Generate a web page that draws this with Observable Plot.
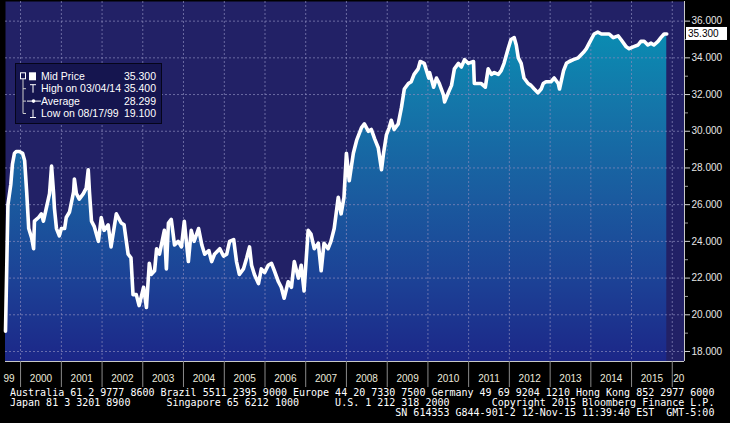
<!DOCTYPE html>
<html><head><meta charset="utf-8">
<script src="https://cdn.jsdelivr.net/npm/d3@7"></script>
<script src="https://cdn.jsdelivr.net/npm/@observablehq/plot@0.6"></script>
<style>
html,body{margin:0;padding:0;background:#000;width:730px;height:423px;overflow:hidden}
#wrap{position:relative;width:730px;height:423px}
#wrap svg{display:block}
#footer{position:absolute;left:10px;top:388px;margin:0;font:10px/10px "DejaVu Sans Mono",monospace;color:#fff;white-space:pre}
#legend{position:absolute;left:15px;top:63px}
</style></head><body><div id="wrap"></div>
<script>
// decimal years and mid prices
const years = [1999.63,1999.66,1999.69,1999.76,1999.80,1999.85,1999.90,1999.97,2000.05,2000.10,2000.15,2000.20,2000.27,2000.32,2000.34,2000.44,2000.51,2000.56,2000.64,2000.71,2000.76,2000.81,2000.83,2000.88,2000.95,2001.00,2001.08,2001.12,2001.20,2001.30,2001.32,2001.37,2001.44,2001.54,2001.61,2001.66,2001.69,2001.74,2001.81,2001.91,2001.98,2002.05,2002.15,2002.22,2002.35,2002.47,2002.54,2002.64,2002.71,2002.76,2002.84,2002.91,2003.02,2003.09,2003.16,2003.21,2003.29,2003.34,2003.41,2003.53,2003.58,2003.63,2003.70,2003.78,2003.87,2003.95,2004.02,2004.12,2004.19,2004.26,2004.37,2004.45,2004.52,2004.62,2004.69,2004.76,2004.89,2004.98,2005.06,2005.13,2005.23,2005.30,2005.37,2005.47,2005.55,2005.62,2005.67,2005.74,2005.84,2005.91,2005.99,2006.08,2006.16,2006.23,2006.33,2006.40,2006.47,2006.57,2006.65,2006.72,2006.82,2006.89,2006.96,2007.06,2007.13,2007.21,2007.31,2007.38,2007.45,2007.55,2007.62,2007.70,2007.80,2007.87,2007.94,2008.00,2008.07,2008.17,2008.25,2008.37,2008.44,2008.54,2008.61,2008.69,2008.78,2008.86,2008.91,2008.98,2009.05,2009.10,2009.17,2009.27,2009.35,2009.42,2009.52,2009.59,2009.66,2009.76,2009.81,2009.91,2010.02,2010.04,2010.14,2010.21,2010.28,2010.38,2010.41,2010.50,2010.58,2010.65,2010.75,2010.82,2010.90,2010.99,2011.12,2011.14,2011.24,2011.31,2011.41,2011.48,2011.56,2011.63,2011.73,2011.80,2011.87,2011.97,2012.04,2012.12,2012.17,2012.22,2012.29,2012.36,2012.46,2012.53,2012.61,2012.70,2012.78,2012.83,2012.90,2013.02,2013.10,2013.20,2013.23,2013.33,2013.40,2013.47,2013.57,2013.69,2013.82,2013.89,2013.96,2014.08,2014.17,2014.26,2014.38,2014.45,2014.55,2014.67,2014.74,2014.87,2014.94,2015.04,2015.16,2015.23,2015.31,2015.40,2015.48,2015.55,2015.65,2015.72,2015.80,2015.865];
const prices = [19.1,22.5,26.0,27.1,28.2,28.8,28.9,28.9,28.8,28.4,26.7,24.7,24.2,23.6,25.1,25.3,25.5,25.1,25.9,26.6,28.1,26.6,25.8,24.7,24.3,24.7,24.7,25.3,25.6,26.7,27.4,26.6,26.3,26.6,26.9,27.9,26.7,25.1,24.8,24.0,25.3,24.6,24.9,23.7,25.5,25.0,24.9,23.3,23.1,21.1,21.1,20.5,21.5,20.4,22.8,22.2,22.4,23.6,23.3,24.6,22.5,25.0,25.2,23.8,24.0,23.7,25.1,22.9,24.6,24.0,24.7,23.8,23.3,23.5,22.9,23.3,23.6,23.2,23.3,24.0,24.1,22.9,22.2,22.5,23.1,23.7,22.7,22.2,21.7,22.5,22.3,22.7,22.8,22.4,21.8,21.5,20.9,21.8,21.5,22.9,22.0,22.7,21.3,24.6,24.4,23.6,23.9,22.4,23.9,23.6,24.0,24.7,26.4,25.5,26.4,28.8,27.3,28.8,29.5,30.2,30.4,30.0,30.1,29.6,29.1,27.9,28.8,29.8,30.2,30.6,30.1,30.4,31.3,32.3,32.6,32.7,33.1,33.4,33.8,33.7,32.9,33.2,32.4,32.9,32.6,32.0,31.6,32.1,32.5,33.4,33.7,33.5,33.9,33.7,33.8,32.6,32.6,32.6,32.4,33.4,33.1,33.2,33.1,33.3,33.7,34.5,35.0,35.1,34.7,34.0,33.7,32.9,32.6,32.5,32.3,32.1,32.3,32.6,32.7,32.7,32.9,32.6,32.3,33.3,33.7,33.8,33.9,34.0,34.3,34.5,34.8,35.3,35.4,35.3,35.3,35.3,35.1,35.2,35.0,34.6,34.5,34.6,34.7,34.9,34.9,34.7,34.8,34.7,34.9,35.1,35.3,35.3];

const yearStarts = [2000,2001,2002,2003,2004,2005,2006,2007,2008,2009,2010,2011,2012,2013,2014,2015,2016];
const yearLabelYears = [2000,2001,2002,2003,2004,2005,2006,2007,2008,2009,2010,2011,2012,2013,2014,2015];
const yearLabels = ["2000","2001","2002","2003","2004","2005","2006","2007","2008","2009","2010","2011","2012","2013","2014","2015"];
const firstYearLabel = "99";
const lastYearLabel = "20";
const priceTicks = [18,20,22,24,26,28,30,32,34,36];
const minorTicks = [19,21,23,25,27,29,31,33,35];
const xDomain = [1999.63, 2016.30];
const yDomain = [17.455, 37.07];

const legendLabels = ["Mid Price","High on 03/04/14","Average","Low on 08/17/99"];
const legendValues = ["35.300","35.400","28.299","19.100"];

const footerLines = [
  "Australia 61 2 9777 8600 Brazil 5511 2395 9000 Europe 44 20 7330 7500 Germany 49 69 9204 1210 Hong Kong 852 2977 6000",
  "Japan 81 3 3201 8900      Singapore 65 6212 1000      U.S. 1 212 318 2000       Copyright 2015 Bloomberg Finance L.P.",
  "SN 614353 G844-901-2 12-Nov-15 11:39:40 EST  GMT-5:00"
];

function toDate(t) {
  const y = Math.floor(t);
  const s = Date.UTC(y, 0, 1), e = Date.UTC(y + 1, 0, 1);
  return new Date(s + (t - y) * (e - s));
}

const data = years.map((t, i) => ({date: toDate(t), price: prices[i]}));
const labelRows = yearLabelYears.map((y, i) => ({date: toDate(y + 0.5), label: yearLabels[i]}));
const lastPrice = prices[prices.length - 1];
const fmt = d3.format(".3f");

function priceTag(index, scales, values, dims) {
  const y = scales.y(lastPrice);
  const x = dims.width - dims.marginRight;
  const g = d3.create("svg:g").attr("transform", `translate(${x},${y})`);
  g.append("rect").attr("x", 2).attr("y", -6.5).attr("width", 41).attr("height", 13).attr("fill", "#fff");
  g.append("text").attr("x", 4).attr("dy", "0.35em").attr("fill", "#000").attr("text-anchor", "start")
    .attr("font-size", 10).attr("font-family", "'Liberation Sans', Arial, sans-serif").text(fmt(lastPrice));
  return g.node();
}

const gridColor = "#8a8abc";

const chart = Plot.plot({
  width: 730,
  height: 388,
  marginLeft: 5,
  marginRight: 46,
  marginTop: 1,
  marginBottom: 27,
  style: {background: "transparent", fontFamily: "'Liberation Sans', Arial, sans-serif", fontSize: "10px", color: "#e6e6e6"},
  x: {type: "utc", domain: xDomain.map(toDate), axis: null},
  y: {domain: yDomain, axis: null},
  marks: [
    Plot.frame({fill: "#222166", stroke: null}),
    Plot.areaY(data, {x: "date", y1: yDomain[0], y2: "price", fill: "url(#areaGrad)"}),
    Plot.ruleY(priceTicks, {stroke: gridColor, strokeOpacity: 0.7, strokeDasharray: "2,2"}),
    Plot.ruleX(yearStarts.map(toDate), {stroke: gridColor, strokeOpacity: 0.7, strokeDasharray: "2,2"}),
    Plot.line(data, {x: "date", y: "price", stroke: "#fff", strokeWidth: 3.6, strokeLinejoin: "round", strokeLinecap: "round"}),
    Plot.ruleY([yDomain[0]], {stroke: "#c8c8c8"}),
    Plot.ruleX([toDate(xDomain[1])], {stroke: "#c8c8c8"}),
    Plot.axisX({ticks: yearStarts.map(toDate), tickSize: 26, tickFormat: () => "", label: null, stroke: "#8a8a8a"}),
    Plot.text(labelRows, {x: "date", text: "label", frameAnchor: "bottom", dy: 20, fill: "#ecebdc", fontSize: 10}),
    Plot.text([toDate(yearStarts[0])], {x: d => d, text: () => firstYearLabel, frameAnchor: "bottom", dy: 20, dx: -6, textAnchor: "end", fill: "#ecebdc", fontSize: 10}),
    Plot.text([toDate(yearStarts[yearStarts.length - 1])], {x: d => d, text: () => lastYearLabel, frameAnchor: "bottom", dy: 20, dx: 1, textAnchor: "start", fill: "#ecebdc", fontSize: 10}),
    Plot.axisY({anchor: "right", ticks: minorTicks, tickSize: 3, tickFormat: () => "", label: null, stroke: "#9a9a9a"}),
    Plot.axisY({anchor: "right", ticks: priceTicks, tickSize: 5, tickPadding: 2, tickFormat: fmt, label: null, fill: "#e6e6e6", stroke: "#d0d0d0"}),
    priceTag
  ]
});

// gradient for the area fill
const defs = d3.select(chart).insert("defs", ":first-child");
const grad = defs.append("linearGradient").attr("id", "areaGrad").attr("x1", 0).attr("y1", 0).attr("x2", 0).attr("y2", 1);
[[0, "#0a8cb2"], [0.22, "#1476a9"], [0.5, "#1a5b9f"], [0.75, "#1c4296"], [1, "#1c2788"]]
  .forEach(([o, c]) => grad.append("stop").attr("offset", o).attr("stop-color", c));

const wrap = document.getElementById("wrap");
wrap.appendChild(chart);

// legend box
const rowY = i => 13.3 + i * 12.4;
const lg = d3.create("svg").attr("id", "legend").attr("width", 148).attr("height", 62)
  .style("font-family", "'Liberation Sans', Arial, sans-serif").style("font-size", "10.5px");
lg.append("rect").attr("x", 0.5).attr("y", 0.5).attr("width", 146).attr("height", 60)
  .attr("fill", "#15154f").attr("stroke", "#05051a");
const ic = lg.append("g").attr("stroke", "#fff").attr("fill", "none").attr("stroke-width", 1);
ic.append("rect").attr("x", 5.5).attr("y", rowY(0) - 3.5).attr("width", 5).attr("height", 6);
ic.append("path").attr("d", `M8,${rowY(0) + 2.5}V${rowY(3)}M8,${rowY(1)}H11M8,${rowY(2)}H11M8,${rowY(3)}H11`).attr("stroke", "#ccc");
lg.append("rect").attr("x", 14).attr("y", rowY(0) - 4).attr("width", 7).attr("height", 8).attr("fill", "#fff");
ic.append("path").attr("d", `M15,${rowY(1) - 4}H21M18,${rowY(1) - 4}V${rowY(1) + 4}`);
ic.append("path").attr("d", `M12,${rowY(2)}H26`);
lg.append("circle").attr("cx", 18.5).attr("cy", rowY(2)).attr("r", 1.8).attr("fill", "#fff");
ic.append("path").attr("d", `M18,${rowY(3) - 4}V${rowY(3) + 4}M15,${rowY(3) + 4}H21`);
legendLabels.forEach((t, i) => {
  lg.append("text").attr("x", 26).attr("y", rowY(i)).attr("dy", "0.35em").attr("fill", "#fff").text(t);
  lg.append("text").attr("x", 141).attr("y", rowY(i)).attr("dy", "0.35em").attr("fill", "#fff").attr("text-anchor", "end").text(legendValues[i]);
});
wrap.appendChild(lg.node());

// footer
const pre = document.createElement("pre");
pre.id = "footer";
const width = footerLines[0].length;
pre.textContent = [footerLines[0], footerLines[1], footerLines[2].padStart(width)].join("\n");
wrap.appendChild(pre);
</script>
</body></html>
